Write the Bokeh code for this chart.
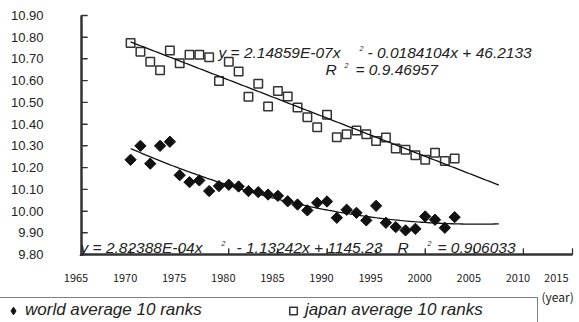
import numpy as np
from bokeh.plotting import figure
from bokeh.models import (ColumnDataSource, FixedTicker, NumeralTickFormatter,
                          Legend, LegendItem, Label, Range1d, LinearAxis)
from bokeh.embed import file_html
from bokeh.resources import INLINE

# ---------------- data ----------------
years = list(range(1970, 2004))
world_avg = [10.236, 10.300, 10.218, 10.300, 10.319, 10.165, 10.133, 10.141,
             10.092, 10.115, 10.121, 10.113, 10.092, 10.087, 10.076, 10.070,
             10.045, 10.030, 10.003, 10.038, 10.044, 9.969, 10.006, 9.992,
             9.957, 10.024, 9.946, 9.926, 9.911, 9.918, 9.975, 9.960,
             9.923, 9.972]
japan_avg = [10.773, 10.733, 10.687, 10.648, 10.739, 10.680, 10.719, 10.719,
             10.708, 10.598, 10.687, 10.642, 10.526, 10.586, 10.481, 10.553,
             10.527, 10.476, 10.432, 10.386, 10.443, 10.340, 10.354, 10.371,
             10.353, 10.322, 10.339, 10.288, 10.282, 10.257, 10.236, 10.268,
             10.230, 10.242]
x_ticks = [1965, 1970, 1975, 1980, 1985, 1990, 1995, 2000, 2005, 2010, 2015]
y_ticks = [9.80, 9.90, 10.00, 10.10, 10.20, 10.30, 10.40, 10.50, 10.60,
           10.70, 10.80, 10.90]
trend_start, trend_end = 1970, 2007.5

series_labels = ["world average 10 ranks", "japan average 10 ranks"]
eq_japan = ["y = 2.14859E-07x", "2", "- 0.0184104x + 46.2133"]
r2_japan = ["R", "2", "= 0.9.46957"]
eq_world = ["y = 2.82388E-04x", "2", "- 1.13242x + 1145.23", "R", "2", "= 0.906033"]
x_unit = "(year)"

# ---------------- layout geometry (pixels) ----------------
W, H = 579, 322
AX_L, AX_R, AX_T, AX_B = 81, 572, 15, 254   # plot-area box of the reference
TICK = 6          # inward tick length, px
RULE = 2.0        # axis rule thickness, px
TW = 1.3          # tick thickness, px
xlo, xhi = x_ticks[0], x_ticks[-1]
ylo, yhi = y_ticks[0], y_ticks[-1]
ppx = (AX_R - AX_L) / (xhi - xlo)
ppy = (AX_B - AX_T) / (yhi - ylo)
x_range = Range1d(xlo - AX_L / ppx, xhi + (W - AX_R) / ppx)
y_range = Range1d(ylo - (H - AX_B) / ppy, yhi + AX_T / ppy)

INK = "#222222"
AXC = "#333333"
p = figure(width=W, height=H, output_backend="svg", toolbar_location=None,
           x_range=x_range, y_range=y_range,
           x_axis_type=None, y_axis_type=None,
           min_border_left=0, min_border_right=0, min_border_top=0,
           min_border_bottom=0)
p.outline_line_color = None
p.background_fill_color = "white"
p.border_fill_color = "white"

# axis rules and inward ticks as thin filled bars (built from the tick values)
hx, hy = RULE / 2 / ppx, RULE / 2 / ppy
bl, br, bb, bt = [xlo - hx, xlo - hx], [xhi, xlo + hx], [ylo - hy, ylo - hy], [ylo + hy, yhi]
for yv in y_ticks:
    bl.append(xlo); br.append(xlo + TICK / ppx)
    bb.append(yv - TW / 2 / ppy); bt.append(yv + TW / 2 / ppy)
for xv in x_ticks:
    bl.append(xv - TW / 2 / ppx); br.append(xv + TW / 2 / ppx)
    bb.append(ylo); bt.append(ylo + TICK / ppy)
p.quad(left=bl, right=br, bottom=bb, top=bt, fill_color=AXC, line_color=None)

# trend lines (quadratic least-squares fits of the data)
t = np.linspace(trend_start, trend_end, 150)
xs = np.array(years, dtype=float) - 1965
cw = np.polyfit(xs, np.array(world_avg), 2)
cj = np.polyfit(xs, np.array(japan_avg), 2)
src = ColumnDataSource(dict(year=years, world=world_avg, japan=japan_avg))

rw = p.scatter("year", "world", source=src, marker="square", angle=np.pi / 4,
               size=8, fill_color="#111111", line_color="#111111")
rj = p.scatter("year", "japan", source=src, marker="square", size=8.5,
               fill_color="white", line_color=AXC, line_width=1.5)
p.line(t, np.polyval(cw, t - 1965), line_color="#111111", line_width=1.3)
p.line(t, np.polyval(cj, t - 1965), line_color="#111111", line_width=1.3)
# hidden diamond renderer of the same series: supplies the legend swatch
rw_key = p.scatter("year", "world", source=src, marker="diamond", size=12,
                   fill_color="#111111", line_color="#111111", visible=False)

# axes (labels), anchored at the reference's plot-area edges
xaxis = LinearAxis(fixed_location=ylo, bounds=(xlo, xhi),
                   ticker=FixedTicker(ticks=x_ticks),
                   major_label_overrides={x: f"{x}\u2003" for x in x_ticks})
yaxis = LinearAxis(fixed_location=xlo, bounds=(ylo, yhi),
                   ticker=FixedTicker(ticks=y_ticks),
                   formatter=NumeralTickFormatter(format="0.00"))
for ax in (xaxis, yaxis):
    ax.axis_line_color = AXC
    ax.axis_line_width = 2
    ax.major_tick_line_color = AXC
    ax.major_tick_line_width = 1
    ax.major_tick_out = 0
    ax.major_tick_in = TICK
    ax.minor_tick_line_color = None
    ax.major_label_text_color = INK
xaxis.major_label_standoff = 14
xaxis.major_label_text_font = "Noto Sans CJK JP"
xaxis.major_label_text_font_size = "11px"
yaxis.major_label_standoff = 38
yaxis.major_label_text_font = "Liberation Sans"
yaxis.major_label_text_font_size = "13px"
p.add_layout(xaxis, "below")
p.add_layout(yaxis, "left")

# equations (screen units from the canvas bottom-left)
def lab(txt, x, y, size="15.5px"):
    p.add_layout(Label(x=x, y=H - y, x_units="screen", y_units="screen",
                       text=txt, text_font="Liberation Sans",
                       text_font_style="italic", text_font_size=size,
                       text_color=INK, text_baseline="middle",
                       text_align="left"))

lab(eq_japan[0], 218, 51.5)
lab(eq_japan[1], 359, 47.5, "7px")
lab(eq_japan[2], 367, 51.5)
lab(r2_japan[0], 325, 68.5)
lab(r2_japan[1], 344, 64.5, "7px")
lab(r2_japan[2], 355, 68.5)
lab(eq_world[0], 80, 246.5)
lab(eq_world[1], 221, 242.5, "7px")
lab(eq_world[2], 236, 246.5)
lab(eq_world[3], 397, 246.5)
lab(eq_world[4], 427, 242.5, "7px")
lab(eq_world[5], 437, 246.5)

legend = Legend(items=[LegendItem(label=series_labels[0], renderers=[rw_key]),
                       LegendItem(label=series_labels[1], renderers=[rj])],
                orientation="horizontal", location=(-2, -1), margin=0,
                padding=2, spacing=26, glyph_width=24, glyph_height=19,
                label_height=19, label_standoff=0, label_width=230,
                label_text_font="Liberation Sans", label_text_font_style="italic",
                label_text_font_size="17px", label_text_color=INK,
                border_line_color="black", border_line_width=1.5,
                background_fill_color="white", background_fill_alpha=1,
                inactive_fill_alpha=0)
p.add_layout(legend)

p.add_layout(Label(x=541, y=H - 296, x_units="screen", y_units="screen",
                   text=x_unit, text_font="Noto Sans CJK JP",
                   text_font_size="12px", text_color=INK,
                   text_baseline="middle"))

open("out.html", "w").write(file_html(p, INLINE))
